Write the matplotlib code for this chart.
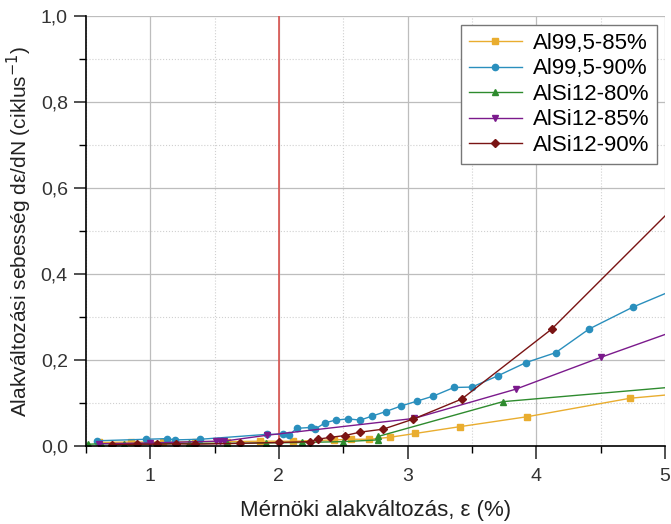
#!/usr/bin/env python3
"""Strain rate vs engineering strain for Al99,5 and AlSi12 foams."""

import matplotlib
matplotlib.use("Agg")
import matplotlib.pyplot as plt
from matplotlib.ticker import FuncFormatter, MultipleLocator

plt.rcParams.update(
    {
        "font.family": ["Liberation Sans", "DejaVu Sans"],
        "font.size": 14,
    }
)

YELLOW = "#e9ad2f"
BLUE = "#2a8fbd"
GREEN = "#2e8b2e"
PURPLE = "#7b1a8c"
BROWN = "#7a1414"
RED = "#d9534f"

# Al99,5-85%
al85_x = [0.60, 0.85, 1.10, 1.35, 1.60, 1.85, 2.11, 2.43, 2.56, 2.70, 2.86, 3.06, 3.41, 3.93, 4.73, 5.10]
al85_y = [0.008, 0.009, 0.009, 0.010, 0.010, 0.011, 0.011, 0.014, 0.0155, 0.0155, 0.020, 0.029, 0.045, 0.068, 0.111, 0.121]

# Al99,5-90%
al90_x = [0.59, 0.97, 1.13, 1.19, 1.39, 1.91, 2.03, 2.08, 2.14, 2.25, 2.28, 2.36, 2.44, 2.54,
          2.63, 2.72, 2.83, 2.95, 3.07, 3.20, 3.36, 3.50, 3.70, 3.92, 4.15, 4.41, 4.75, 5.10]
al90_y = [0.012, 0.0155, 0.017, 0.014, 0.0155, 0.027, 0.027, 0.026, 0.041, 0.043, 0.039, 0.054, 0.060, 0.063,
          0.060, 0.069, 0.080, 0.093, 0.104, 0.116, 0.136, 0.137, 0.163, 0.194, 0.217, 0.272, 0.323, 0.367]

# AlSi12-80%
si80_x = [0.52, 0.62, 0.80, 1.05, 1.30, 1.60, 1.90, 2.18, 2.50, 2.77, 2.77, 3.74, 5.10]
si80_y = [0.004, 0.005, 0.005, 0.005, 0.006, 0.006, 0.007, 0.008, 0.010, 0.014, 0.022, 0.103, 0.138]

# AlSi12-85%
si85_x = [0.60, 1.00, 1.51, 1.54, 1.57, 1.91, 3.05, 3.84, 4.50, 5.10]
si85_y = [0.005, 0.007, 0.011, 0.012, 0.011, 0.025, 0.064, 0.132, 0.206, 0.270]

# AlSi12-90%
si90_x = [0.70, 0.90, 1.05, 1.20, 1.35, 1.70, 2.00, 2.24, 2.30, 2.40, 2.51, 2.63, 2.81, 3.04, 3.42, 4.12, 5.10]
si90_y = [0.003, 0.004, 0.004, 0.005, 0.004, 0.006, 0.008, 0.010, 0.0155, 0.020, 0.024, 0.032, 0.039, 0.062, 0.109, 0.272, 0.565]

series = [
    ("Al99,5-85%", al85_x, al85_y, YELLOW, "s"),
    ("Al99,5-90%", al90_x, al90_y, BLUE, "o"),
    ("AlSi12-80%", si80_x, si80_y, GREEN, "^"),
    ("AlSi12-85%", si85_x, si85_y, PURPLE, "v"),
    ("AlSi12-90%", si90_x, si90_y, BROWN, "D"),
]


def main():
    fig = plt.figure(figsize=(6.71, 5.24), dpi=100)
    ax = fig.add_axes([0.128, 0.149, 0.863, 0.82])

    for label, xs, ys, color, marker in series:
        ax.plot(
            xs,
            ys,
            color=color,
            marker=marker,
            markersize=4.5 if marker != "D" else 3.8,
            linewidth=1.0,
            label=label,
        )

    ax.axvline(2.0, color=RED, linewidth=1.2, zorder=1)

    ax.set_xlim(0.5, 5.0)
    ax.set_ylim(0.0, 1.0)
    ax.xaxis.set_major_locator(MultipleLocator(1))
    ax.xaxis.set_minor_locator(MultipleLocator(0.5))
    ax.yaxis.set_major_locator(MultipleLocator(0.2))
    ax.yaxis.set_minor_locator(MultipleLocator(0.1))
    ax.yaxis.set_major_formatter(FuncFormatter(lambda v, _: f"{v:.1f}".replace(".", ",")))
    ax.xaxis.set_major_formatter(FuncFormatter(lambda v, _: f"{v:.0f}"))

    ax.grid(which="major", color="#bdbdbd", linewidth=0.9)
    ax.grid(which="minor", color="#d0d0d0", linewidth=0.8, linestyle=":")
    ax.set_axisbelow(True)

    for side in ("top", "right"):
        ax.spines[side].set_visible(False)
    for side in ("left", "bottom"):
        ax.spines[side].set_linewidth(1.2)
    ax.tick_params(which="major", direction="out", length=9, width=1.2)
    ax.tick_params(axis="y", which="major", pad=4)
    ax.tick_params(axis="x", which="major", pad=7)
    ax.tick_params(which="minor", direction="out", length=5, width=1.0)
    ax.tick_params(labelsize=14, colors="#333333")

    ax.set_xlabel("Mérnöki alakváltozás, ε (%)", fontsize=16, labelpad=11, color="#222222")
    ax.set_ylabel("Alakváltozási sebesség dε/dN (ciklus$^{-1}$)", fontsize=15, labelpad=5, color="#222222")

    leg = ax.legend(
        loc="upper right",
        fontsize=16,
        frameon=True,
        fancybox=False,
        edgecolor="#777777",
        framealpha=1.0,
        handlelength=2.4,
        handletextpad=0.5,
        labelspacing=0.2,
        borderpad=0.35,
        bbox_to_anchor=(1.006, 1.005),
    )
    leg.get_frame().set_linewidth(1.0)

    fig.savefig("out.png", dpi=100)


if __name__ == "__main__":
    main()
